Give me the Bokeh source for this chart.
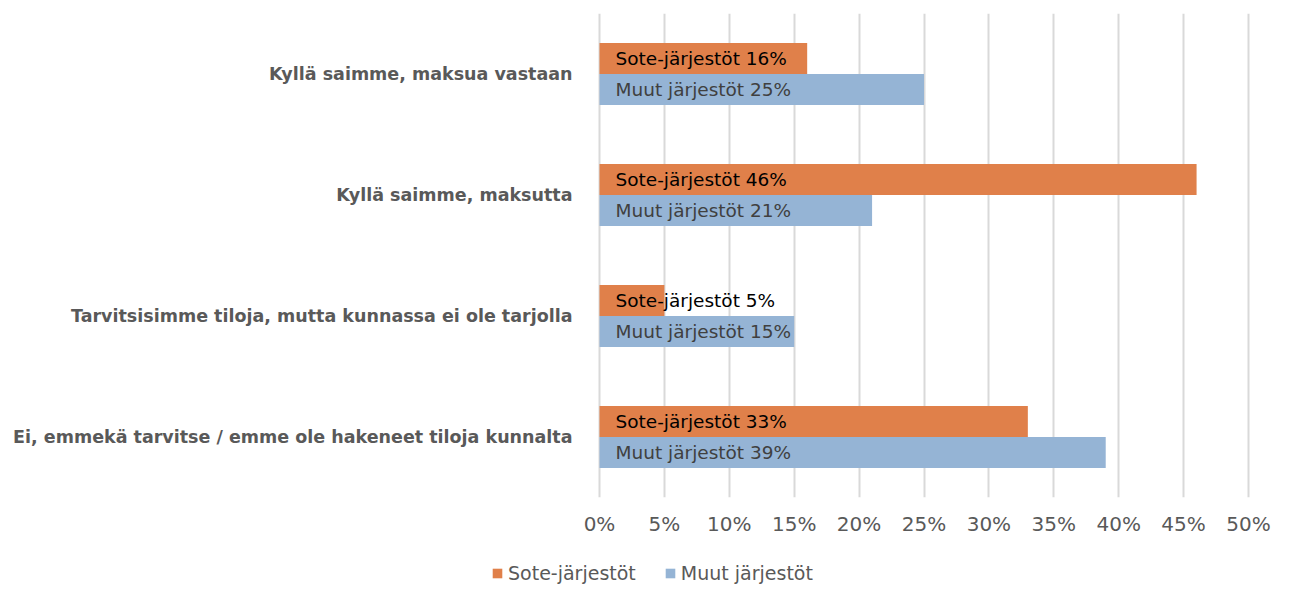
from bokeh.plotting import figure
from bokeh.layouts import column
from bokeh.models import ColumnDataSource, FactorRange, FixedTicker, NumeralTickFormatter, Legend, LegendItem, Range1d
from bokeh.transform import dodge
from bokeh.core.properties import value
from bokeh.embed import file_html
from bokeh.resources import INLINE

categories = [
    "Kyllä saimme, maksua vastaan",
    "Kyllä saimme, maksutta",
    "Tarvitsisimme tiloja, mutta kunnassa ei ole tarjolla",
    "Ei, emmekä tarvitse / emme ole hakeneet tiloja kunnalta",
]
series_names = ["Sote-järjestöt", "Muut järjestöt"]
sote = [16, 46, 5, 33]
muut = [25, 21, 15, 39]
x_ticks = [0, 5, 10, 15, 20, 25, 30, 35, 40, 45, 50]

FONT = "DejaVu Sans"
ORANGE = "#E0804A"
BLUE = "#95B4D5"
GREY = "#595959"

src = ColumnDataSource(dict(
    cat=categories,
    zero=[0] * len(categories),
    sote=[v / 100 for v in sote],
    muut=[v / 100 for v in muut],
    sote_lbl=[f"{series_names[0]} {v}%" for v in sote],
    muut_lbl=[f"{series_names[1]} {v}%" for v in muut],
))

# frame spans the full width; 0% sits at 599px, 50% at 1248px
PX_PER_UNIT = 649 / 0.5
FRAME_W = 1296
p = figure(output_backend="svg", toolbar_location=None,
           y_range=FactorRange(factors=list(reversed(categories)), range_padding=0),
           x_range=Range1d(-599 / PX_PER_UNIT, (FRAME_W - 599) / PX_PER_UNIT),
           frame_width=FRAME_W, frame_height=484,
           min_border_left=0, min_border_right=0, min_border_top=13, min_border_bottom=0)
p.outline_line_color = None

bh = 0.256
r1 = p.hbar(y=dodge("cat", 0.128, range=p.y_range), right="sote", left=0, height=bh,
            source=src, fill_color=ORANGE, line_color=None)
r2 = p.hbar(y=dodge("cat", -0.128, range=p.y_range), right="muut", left=0, height=bh,
            source=src, fill_color=BLUE, line_color=None)

p.text(x=0, y=dodge("cat", 0.128, range=p.y_range), text="sote_lbl", source=src,
       x_offset=16, text_baseline="middle", text_align="left",
       text_font=value(FONT), text_font_size="18.5px", text_color="#000000")
p.text(x=0, y=dodge("cat", -0.128, range=p.y_range), text="muut_lbl", source=src,
       x_offset=16, text_baseline="middle", text_align="left",
       text_font=value(FONT), text_font_size="18.5px", text_color="#404040")

# category labels
p.text(x="zero", y="cat", text="cat", source=src, x_offset=-27,
       text_baseline="middle", text_align="right",
       text_font=value(FONT), text_font_style="bold", text_font_size="17.5px",
       text_color=GREY)

p.xaxis.ticker = FixedTicker(ticks=[t / 100 for t in x_ticks])
p.xaxis.formatter = NumeralTickFormatter(format="0%")
p.xaxis.axis_line_color = None
p.xaxis.major_tick_line_color = None
p.xaxis.minor_tick_line_color = None
p.xaxis.major_label_text_font = FONT
p.xaxis.major_label_text_font_size = "20px"
p.xaxis.major_label_text_color = GREY
p.xaxis.major_label_standoff = 8

p.yaxis.visible = False

p.ygrid.grid_line_color = None
p.xgrid.grid_line_color = "#D9D9D9"
p.xgrid.grid_line_width = 2

# legend in its own strip below the chart (zero-height proxy bars carry the swatches)
lg = figure(output_backend="svg", toolbar_location=None,
            frame_width=FRAME_W, frame_height=60,
            min_border_left=0, min_border_right=0, min_border_top=0, min_border_bottom=0,
            x_range=(0, 1), y_range=FactorRange(factors=categories))
lg.outline_line_color = None
lg.axis.visible = False
lg.grid.visible = False
l1 = lg.hbar(y="cat", right="sote", left=0, height=0, source=src,
             fill_color=ORANGE, line_color=None)
l2 = lg.hbar(y="cat", right="muut", left=0, height=0, source=src,
             fill_color=BLUE, line_color=None)

legend = Legend(items=[LegendItem(label=series_names[0], renderers=[l1]),
                       LegendItem(label=series_names[1], renderers=[l2])],
                orientation="horizontal", location=(491, 14),
                label_text_font=FONT, label_text_font_size="19px", label_text_color=GREY,
                glyph_width=12, glyph_height=12, spacing=28, label_standoff=5,
                border_line_color=None, background_fill_alpha=0, margin=0, padding=0)
lg.add_layout(legend, "center")

layout = column(p, lg, spacing=0)
open("out.html", "w").write(file_html(layout, INLINE))
